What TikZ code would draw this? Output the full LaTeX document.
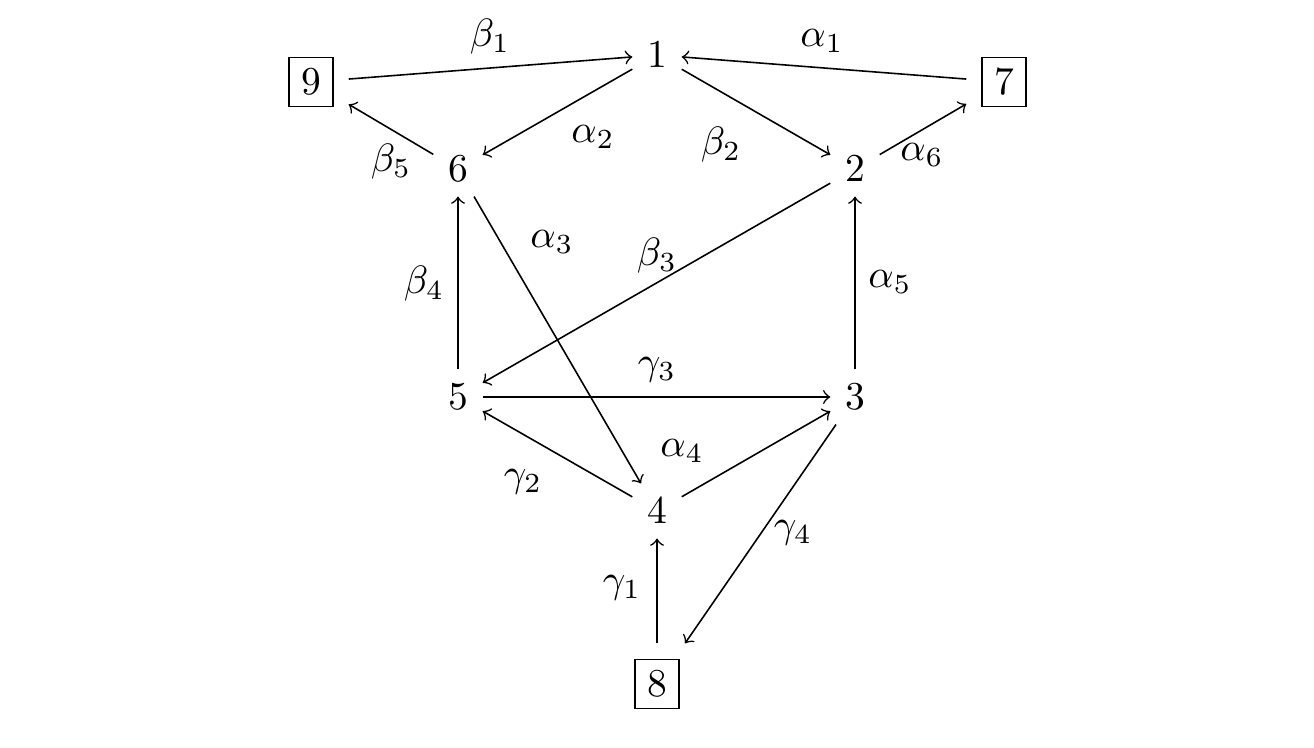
\documentclass[tikz,border=0pt]{standalone}
\begin{document}
\begin{tikzpicture}[x=0.253pt,y=-0.253pt,
  v/.style={inner sep=0pt,outer sep=3.75pt},
  bx/.style={draw,line width=0.4pt,inner sep=3pt,outer sep=4.05pt},
  lbl/.style={inner sep=0pt},
  ar/.style={->,line width=0.4pt}]
\useasboundingbox (0,0) rectangle (1314,748);
% vertices
\node[v] (n1) at (657,55) {$1$};
\node[v] (n2) at (855,169) {$2$};
\node[v] (n3) at (855,397) {$3$};
\node[v] (n4) at (657,511) {$4$};
\node[v] (n5) at (458,397) {$5$};
\node[v] (n6) at (458,169) {$6$};
\node[bx] (n7) at (1004,82) {$7$};
\node[bx] (n8) at (657,684) {$8$};
\node[bx] (n9) at (311,82) {$9$};
% connectors
\draw[ar] (n9) -- (n1);
\draw[ar] (n7) -- (n1);
\draw[ar] (n1) -- (n6);
\draw[ar] (n1) -- (n2);
\draw[ar] (n6) -- (n9);
\draw[ar] (n2) -- (n7);
\draw[ar] (n6) -- (n4);
\draw[ar] (n2) -- (n5);
\draw[ar] (n5) -- (n6);
\draw[ar] (n3) -- (n2);
\draw[ar] (n5) -- (n3);
\draw[ar] (n4) -- (n5);
\draw[ar] (n4) -- (n3);
\draw[ar] (n3) -- (n8);
\draw[ar] (n8) -- (n4);
% labels
\node[lbl] (lb1) at (490,37) {$\beta_1$};
\node[lbl] (la1) at (822,41) {$\alpha_1$};
\node[lbl] (la2) at (593,137) {$\alpha_2$};
\node[lbl] (lb2) at (721,145) {$\beta_2$};
\node[lbl] (lb5) at (391,162) {$\beta_5$};
\node[lbl] (la6) at (922,155) {$\alpha_6$};
\node[lbl] (la3) at (552,242) {$\alpha_3$};
\node[lbl] (lb3) at (657,256) {$\beta_3$};
\node[lbl] (lb4) at (424,284) {$\beta_4$};
\node[lbl] (la5) at (890,282) {$\alpha_5$};
\node[lbl] (lg3) at (657,370) {$\gamma_3$};
\node[lbl] (la4) at (682,451) {$\alpha_4$};
\node[lbl] (lg2) at (523,482) {$\gamma_2$};
\node[lbl] (lg4) at (793,533) {$\gamma_4$};
\node[lbl] (lg1) at (622,588) {$\gamma_1$};
\end{tikzpicture}
\end{document}
